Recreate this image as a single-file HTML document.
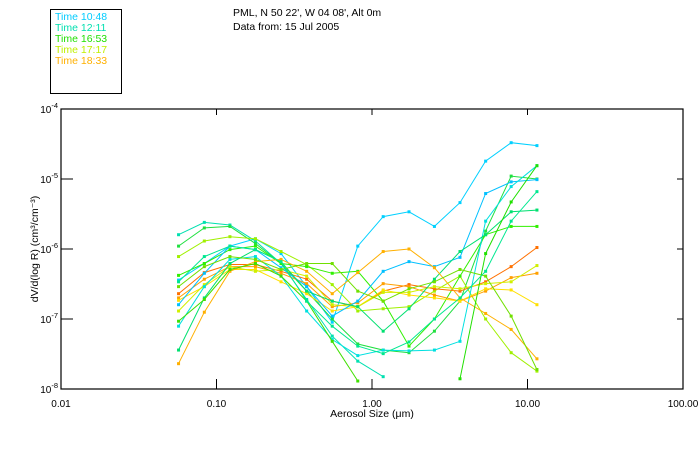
<!DOCTYPE html>
<html><head><meta charset="utf-8"><style>
html,body{margin:0;padding:0;background:#fff;}
svg text{font-family:"Liberation Sans",sans-serif;}
</style></head><body>
<svg id="chart" width="700" height="450" viewBox="0 0 700 450" xmlns="http://www.w3.org/2000/svg">
<rect x="0" y="0" width="700" height="450" fill="#fff"/>
<g>
<rect x="50.5" y="9.5" width="71" height="84" fill="none" stroke="#000"/>
<text x="55" y="20" font-size="10.5" fill="#00ccff">Time 10:48</text>
<text x="55" y="31" font-size="10.5" fill="#00e0b0">Time 12:11</text>
<text x="55" y="42" font-size="10.5" fill="#20e000">Time 16:53</text>
<text x="55" y="53" font-size="10.5" fill="#c0f000">Time 17:17</text>
<text x="55" y="64" font-size="10.5" fill="#ffb000">Time 18:33</text>
</g>
<text x="233" y="16" font-size="10.5" fill="#000">PML, N 50 22', W 04 08', Alt 0m</text>
<text x="233" y="30" font-size="10.5" fill="#000">Data from: 15 Jul 2005</text>
<g id="axes"></g>
<g id="series"></g>
<rect x="61" y="109" width="622" height="280" fill="none" stroke="#000" stroke-width="1.2"/>
<text x="372" y="417" font-size="10.5" text-anchor="middle">Aerosol Size (μm)</text>
<text transform="translate(38,249) rotate(-90)" font-size="10.5" text-anchor="middle">dV/d(log R) (cm³/cm⁻³)</text>
</svg>
<script>
const sizes = [0.057,0.0835,0.122,0.178,0.26,0.38,0.555,0.81,1.18,1.73,2.52,3.68,5.38,7.85,11.5];
const xTicks = [0.01,0.1,1,10,100];
const xTickLabels = ["0.01","0.10","1.00","10.00","100.00"];
const yTicks = [-4,-5,-6,-7,-8];
const seriesColors = ["#00d0ff","#00e0b0","#20e040","#a0f000","#30f000","#ff7000","#ffa000","#ffe000","#d0f000","#00c0ff","#00e0e0","#00e070","#ffb000","#70e000","#40e000","#20e000","#00e890"];
const sA = [3.6e-7,6.2e-7,1.1e-6,1.4e-6,8.6e-7,2.9e-7,9.0e-8,1.1e-6,2.9e-6,3.4e-6,2.1e-6,4.6e-6,1.8e-5,3.3e-5,3.0e-5];
const sB = [1.6e-6,2.4e-6,2.2e-6,1.3e-6,6.2e-7,1.9e-7,5.7e-8,2.5e-8,1.5e-8,null,null,null,null,null,null];
const sC = [1.1e-6,2.0e-6,2.1e-6,1.2e-6,6.2e-7,2.5e-7,1.0e-7,4.4e-8,3.6e-8,3.3e-8,6.7e-8,1.8e-7,1.8e-6,1.1e-5,1.0e-5];
const sD = [7.8e-7,1.3e-6,1.5e-6,1.4e-6,9.2e-7,6.0e-7,3.1e-7,1.3e-7,1.4e-7,1.5e-7,2.5e-7,4.1e-7,1.0e-7,3.3e-8,1.8e-8];
const sE = [4.2e-7,6.2e-7,9.8e-7,1.1e-6,6.2e-7,5.6e-7,4.5e-7,4.8e-7,1.8e-7,4.1e-8,1.0e-7,4.1e-7,1.6e-6,2.1e-6,2.1e-6];
const sF = [2.3e-7,4.6e-7,6.0e-7,6.0e-7,4.8e-7,3.7e-7,1.8e-7,1.5e-7,2.5e-7,3.1e-7,2.7e-7,2.5e-7,3.4e-7,5.6e-7,1.05e-6];
const sG = [2.0e-7,3.7e-7,5.6e-7,5.6e-7,4.5e-7,3.2e-7,1.5e-7,1.7e-7,3.2e-7,2.9e-7,2.2e-7,1.8e-7,2.5e-7,3.9e-7,4.5e-7];
const sH = [1.85e-7,2.9e-7,5.1e-7,5.1e-7,3.4e-7,2.3e-7,1.3e-7,1.5e-7,2.6e-7,2.2e-7,2.0e-7,1.8e-7,2.7e-7,2.6e-7,1.6e-7];
const sI = [1.3e-7,3.1e-7,5.6e-7,4.8e-7,5.1e-7,4.1e-7,1.6e-7,1.5e-7,2.4e-7,2.4e-7,2.9e-7,2.7e-7,3.2e-7,3.4e-7,5.8e-7];
const sJ = [1.6e-7,4.5e-7,1.1e-6,9.8e-7,5.4e-7,2.9e-7,1.1e-7,1.8e-7,4.8e-7,6.6e-7,5.6e-7,7.6e-7,6.2e-6,9.1e-6,9.8e-6];
const sK = [7.9e-8,2.9e-7,7.1e-7,7.8e-7,4.1e-7,1.3e-7,5.1e-8,3.0e-8,3.6e-8,3.5e-8,3.6e-8,4.8e-8,2.5e-6,7.8e-6,1.55e-5];
const sL = [3.6e-8,2.0e-7,6.2e-7,9.8e-7,6.6e-7,2.5e-7,1.8e-7,1.5e-7,6.7e-8,1.4e-7,3.7e-7,9.2e-7,1.6e-6,3.4e-6,3.6e-6];
const sM = [2.3e-8,1.25e-7,4.8e-7,6.6e-7,7.1e-7,4.8e-7,2.3e-7,4.6e-7,9.2e-7,1.0e-6,5.4e-7,2.0e-7,1.2e-7,7.1e-8,2.7e-8];
const sN = [2.9e-7,5.6e-7,7.8e-7,7.1e-7,5.1e-7,6.2e-7,6.2e-7,2.5e-7,1.8e-7,2.7e-7,3.4e-7,5.1e-7,4.1e-7,1.1e-7,1.9e-8];
const sO = [9.3e-8,1.9e-7,5.1e-7,6.2e-7,4.1e-7,1.8e-7,4.8e-8,1.3e-8,null,null,null,null,null,null,null];
const sP = [null,null,null,null,null,null,null,null,null,null,null,1.4e-8,8.6e-7,4.7e-6,1.55e-5];
const sQ = [3.4e-7,7.8e-7,1.1e-6,9.8e-7,6.6e-7,1.8e-7,7.9e-8,4.1e-8,3.2e-8,4.7e-8,1.0e-7,2.0e-7,4.8e-7,2.5e-6,6.6e-6];
const allSeries = [sA,sB,sC,sD,sE,sF,sG,sH,sI,sJ,sK,sL,sM,sN,sO,sP,sQ];

const X0=61,X1=683,Y0=109,Y1=389;
function xScale(v){return X0+(Math.log10(v)+2)/4*(X1-X0);}
function yScale(v){return Y0+(-4-Math.log10(v))/4*(Y1-Y0);}
const NS="http://www.w3.org/2000/svg";
const axes=document.getElementById('axes');
const ser=document.getElementById('series');
function mk(tag,attrs,parent){const e=document.createElementNS(NS,tag);for(const k in attrs)e.setAttribute(k,attrs[k]);parent.appendChild(e);return e;}

xTicks.forEach((t,i)=>{
  const x=xScale(t);
  if(i>0&&i<xTicks.length-1){
    const a=mk('line',{x1:x,x2:x,y1:Y1,y2:Y1-10,stroke:'#000'},axes);
    
    
    const b=mk('line',{x1:x,x2:x,y1:Y0,y2:Y0+6,stroke:'#000'},axes);
    
    
  }
  const tx=mk('text',{x:x,y:Y1+18,'font-size':10,'text-anchor':'middle'},axes);
  tx.textContent=xTickLabels[i];
  
  
});
yTicks.forEach((p,i)=>{
  const y=yScale(Math.pow(10,p));
  if(i>0&&i<yTicks.length-1){
    const a=mk('line',{x1:X0,x2:X0+12,y1:y,y2:y,stroke:'#000'},axes);
    
    
    const b=mk('line',{x1:X1,x2:X1-6,y1:y,y2:y,stroke:'#000'},axes);
    
    
  }
  const tx=mk('text',{x:X0-3,y:y+4,'font-size':10,'text-anchor':'end'},axes);
  tx.innerHTML='10<tspan dy="-5" font-size="7.5">'+p+'</tspan>';
  
  
});
allSeries.forEach((s,si)=>{
  const c=seriesColors[si];
  const g=mk('g',{},ser);
  
  
  let d='',pen=false;
  s.forEach((v,i)=>{
    if(v==null){pen=false;return;}
    d+=(pen?'L':'M')+xScale(sizes[i]).toFixed(1)+' '+yScale(v).toFixed(1)+' ';
    pen=true;
  });
  const p=mk('path',{d:d,fill:'none',stroke:c,'stroke-width':1},g);
  
  
  s.forEach((v,i)=>{
    if(v==null)return;
    const r=mk('rect',{x:xScale(sizes[i])-1.5,y:yScale(v)-1.5,width:3,height:3,fill:c},g);
    
    
  });
});
</script>
</body></html>
